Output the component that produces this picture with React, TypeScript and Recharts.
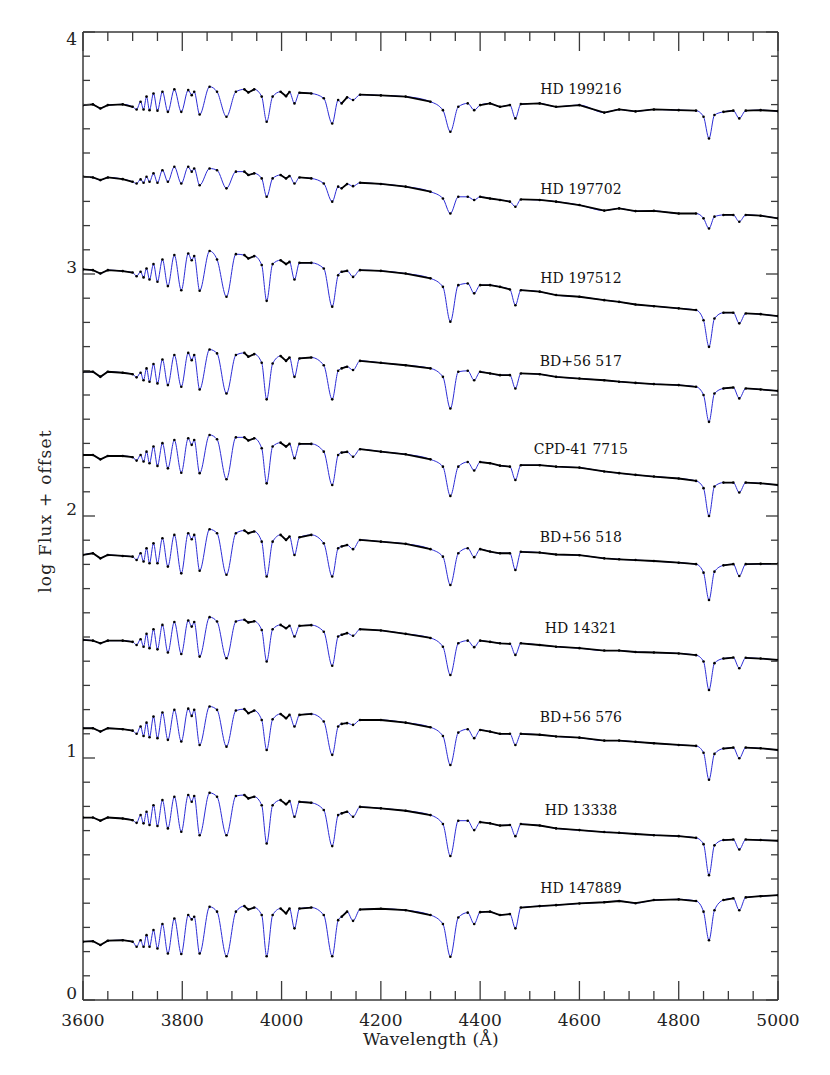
import { LineChart, Line, XAxis, YAxis, ReferenceDot } from 'recharts';

// wavelength grid (Angstrom) shared by all spectra
const WAVE = [
  3600, 3620, 3635, 3650, 3680, 3700, 3708, 3716, 3722, 3728,
  3734, 3742, 3750, 3760, 3771, 3784, 3798, 3812, 3819, 3824,
  3835, 3855, 3870, 3889, 3908, 3925, 3933, 3945, 3960, 3970,
  3982, 3998, 4009, 4016, 4026, 4036, 4060, 4085, 4102, 4114,
  4121, 4132, 4144, 4158, 4200, 4250, 4300, 4325, 4340, 4356,
  4375, 4388, 4400, 4420, 4440, 4460, 4471, 4482, 4520, 4553,
  4600, 4650, 4680, 4713, 4750, 4800, 4835, 4850, 4861, 4872,
  4890, 4910, 4922, 4935, 4965, 5000,
];

// log flux + offset
const HD_199216 = [
  3.698, 3.701, 3.684, 3.698, 3.701, 3.691, 3.680, 3.712, 3.680, 3.733,
  3.677, 3.746, 3.675, 3.753, 3.670, 3.763, 3.670, 3.760, 3.739, 3.753,
  3.659, 3.774, 3.753, 3.650, 3.753, 3.763, 3.750, 3.763, 3.733, 3.629,
  3.733, 3.753, 3.735, 3.752, 3.705, 3.749, 3.746, 3.726, 3.622, 3.719,
  3.705, 3.730, 3.719, 3.741, 3.738, 3.733, 3.712, 3.677, 3.588, 3.691,
  3.705, 3.677, 3.698, 3.705, 3.691, 3.698, 3.643, 3.702, 3.705, 3.691,
  3.698, 3.667, 3.680, 3.672, 3.680, 3.677, 3.675, 3.650, 3.560, 3.657,
  3.670, 3.675, 3.643, 3.675, 3.677, 3.673,
];
const HD_197702 = [
  3.402, 3.399, 3.388, 3.399, 3.392, 3.381, 3.374, 3.391, 3.377, 3.402,
  3.381, 3.416, 3.377, 3.429, 3.381, 3.443, 3.374, 3.443, 3.423, 3.436,
  3.367, 3.436, 3.429, 3.354, 3.423, 3.423, 3.409, 3.416, 3.395, 3.319,
  3.395, 3.409, 3.395, 3.405, 3.374, 3.399, 3.395, 3.374, 3.299, 3.361,
  3.354, 3.372, 3.363, 3.377, 3.372, 3.361, 3.340, 3.312, 3.250, 3.319,
  3.319, 3.306, 3.319, 3.312, 3.306, 3.299, 3.278, 3.308, 3.306, 3.299,
  3.285, 3.262, 3.271, 3.260, 3.261, 3.250, 3.250, 3.230, 3.188, 3.237,
  3.244, 3.244, 3.216, 3.244, 3.241, 3.230,
];
const HD_197512 = [
  3.019, 3.016, 3.002, 3.016, 3.012, 3.006, 2.991, 3.009, 2.986, 3.023,
  2.977, 3.041, 2.968, 3.060, 2.950, 3.078, 2.933, 3.085, 3.057, 3.074,
  2.931, 3.095, 3.060, 2.906, 3.082, 3.078, 3.064, 3.074, 3.037, 2.889,
  3.041, 3.057, 3.041, 3.050, 2.977, 3.046, 3.046, 3.023, 2.865, 2.995,
  3.009, 3.013, 2.988, 3.016, 3.013, 3.002, 2.982, 2.947, 2.803, 2.954,
  2.961, 2.920, 2.954, 2.954, 2.947, 2.936, 2.871, 2.933, 2.927, 2.913,
  2.906, 2.892, 2.885, 2.874, 2.867, 2.858, 2.851, 2.809, 2.699, 2.816,
  2.840, 2.840, 2.796, 2.837, 2.834, 2.826,
];
const BD_56_517 = [
  2.596, 2.596, 2.575, 2.596, 2.592, 2.586, 2.573, 2.592, 2.561, 2.610,
  2.555, 2.628, 2.548, 2.647, 2.541, 2.665, 2.534, 2.674, 2.644, 2.665,
  2.523, 2.688, 2.672, 2.506, 2.665, 2.674, 2.658, 2.669, 2.633, 2.482,
  2.630, 2.661, 2.641, 2.655, 2.575, 2.651, 2.655, 2.623, 2.482, 2.600,
  2.610, 2.617, 2.603, 2.641, 2.633, 2.623, 2.610, 2.575, 2.444, 2.596,
  2.600, 2.561, 2.596, 2.589, 2.582, 2.582, 2.527, 2.589, 2.586, 2.575,
  2.568, 2.561, 2.555, 2.550, 2.545, 2.541, 2.534, 2.500, 2.389, 2.506,
  2.527, 2.531, 2.486, 2.527, 2.523, 2.517,
];
const CPD_41_7715 = [
  2.252, 2.252, 2.234, 2.248, 2.248, 2.243, 2.229, 2.252, 2.225, 2.266,
  2.218, 2.287, 2.207, 2.301, 2.197, 2.314, 2.179, 2.321, 2.294, 2.314,
  2.177, 2.335, 2.317, 2.152, 2.325, 2.325, 2.312, 2.321, 2.280, 2.135,
  2.287, 2.303, 2.287, 2.298, 2.239, 2.298, 2.298, 2.266, 2.128, 2.252,
  2.262, 2.265, 2.245, 2.276, 2.266, 2.255, 2.234, 2.204, 2.083, 2.204,
  2.223, 2.188, 2.223, 2.218, 2.208, 2.204, 2.149, 2.210, 2.210, 2.204,
  2.200, 2.184, 2.177, 2.170, 2.163, 2.155, 2.145, 2.115, 2.000, 2.122,
  2.138, 2.138, 2.097, 2.138, 2.135, 2.128,
];
const BD_56_518 = [
  1.839, 1.846, 1.825, 1.839, 1.835, 1.832, 1.818, 1.846, 1.812, 1.867,
  1.805, 1.887, 1.805, 1.908, 1.791, 1.922, 1.763, 1.929, 1.904, 1.922,
  1.774, 1.945, 1.929, 1.757, 1.929, 1.940, 1.929, 1.936, 1.894, 1.750,
  1.894, 1.922, 1.901, 1.915, 1.839, 1.912, 1.922, 1.887, 1.750, 1.867,
  1.874, 1.880, 1.863, 1.901, 1.894, 1.885, 1.863, 1.832, 1.715, 1.846,
  1.867, 1.830, 1.863, 1.853, 1.846, 1.846, 1.777, 1.852, 1.849, 1.841,
  1.838, 1.825, 1.821, 1.818, 1.814, 1.807, 1.801, 1.766, 1.653, 1.770,
  1.796, 1.801, 1.752, 1.801, 1.802, 1.802,
];
const HD_14321 = [
  1.488, 1.485, 1.474, 1.485, 1.485, 1.480, 1.467, 1.491, 1.460, 1.513,
  1.454, 1.532, 1.449, 1.550, 1.436, 1.562, 1.430, 1.568, 1.543, 1.562,
  1.419, 1.582, 1.564, 1.412, 1.564, 1.571, 1.560, 1.565, 1.529, 1.399,
  1.532, 1.550, 1.536, 1.546, 1.502, 1.546, 1.549, 1.522, 1.381, 1.502,
  1.509, 1.516, 1.505, 1.532, 1.527, 1.513, 1.496, 1.460, 1.343, 1.474,
  1.485, 1.458, 1.485, 1.480, 1.474, 1.472, 1.426, 1.474, 1.467, 1.460,
  1.454, 1.444, 1.444, 1.438, 1.436, 1.432, 1.425, 1.399, 1.281, 1.392,
  1.411, 1.415, 1.371, 1.414, 1.411, 1.405,
];
const BD_56_576 = [
  1.123, 1.123, 1.109, 1.123, 1.119, 1.113, 1.100, 1.130, 1.091, 1.146,
  1.086, 1.171, 1.082, 1.188, 1.075, 1.199, 1.068, 1.204, 1.174, 1.199,
  1.054, 1.213, 1.199, 1.047, 1.196, 1.202, 1.185, 1.196, 1.157, 1.033,
  1.160, 1.182, 1.164, 1.178, 1.130, 1.178, 1.182, 1.151, 1.013, 1.130,
  1.141, 1.144, 1.137, 1.157, 1.157, 1.146, 1.127, 1.091, 0.971, 1.105,
  1.119, 1.082, 1.116, 1.109, 1.100, 1.100, 1.054, 1.100, 1.096, 1.089,
  1.084, 1.072, 1.072, 1.067, 1.061, 1.054, 1.050, 1.022, 0.910, 1.017,
  1.039, 1.043, 0.999, 1.043, 1.040, 1.033,
];
const HD_13338 = [
  0.754, 0.754, 0.741, 0.754, 0.750, 0.743, 0.732, 0.764, 0.730, 0.778,
  0.723, 0.805, 0.719, 0.826, 0.709, 0.840, 0.695, 0.847, 0.819, 0.843,
  0.681, 0.856, 0.840, 0.681, 0.843, 0.847, 0.833, 0.840, 0.805, 0.647,
  0.805, 0.826, 0.809, 0.822, 0.757, 0.819, 0.815, 0.785, 0.636, 0.764,
  0.771, 0.778, 0.757, 0.798, 0.792, 0.782, 0.764, 0.727, 0.595, 0.741,
  0.741, 0.702, 0.735, 0.730, 0.721, 0.723, 0.677, 0.727, 0.721, 0.709,
  0.702, 0.694, 0.691, 0.686, 0.681, 0.677, 0.670, 0.644, 0.516, 0.639,
  0.661, 0.663, 0.622, 0.663, 0.661, 0.658,
];
const HD_147889 = [
  0.241, 0.243, 0.227, 0.245, 0.247, 0.241, 0.220, 0.247, 0.220, 0.268,
  0.220, 0.289, 0.213, 0.314, 0.192, 0.337, 0.190, 0.351, 0.333, 0.344,
  0.192, 0.385, 0.365, 0.181, 0.365, 0.388, 0.374, 0.382, 0.351, 0.181,
  0.351, 0.378, 0.358, 0.378, 0.296, 0.378, 0.382, 0.351, 0.181, 0.330,
  0.344, 0.365, 0.327, 0.374, 0.377, 0.371, 0.351, 0.314, 0.179, 0.341,
  0.361, 0.314, 0.363, 0.365, 0.351, 0.355, 0.296, 0.382, 0.388, 0.392,
  0.399, 0.404, 0.409, 0.400, 0.413, 0.416, 0.409, 0.365, 0.247, 0.371,
  0.413, 0.420, 0.371, 0.424, 0.429, 0.433,
];

const STAR_NAMES = [
  'HD 199216', 'HD 197702', 'HD 197512', 'BD+56 517', 'CPD-41 7715',
  'BD+56 518', 'HD 14321', 'BD+56 576', 'HD 13338', 'HD 147889',
];
const STAR_FLUX = [
  HD_199216, HD_197702, HD_197512, BD_56_517, CPD_41_7715,
  BD_56_518, HD_14321, BD_56_576, HD_13338, HD_147889,
];
const LABEL_Y = [3.764, 3.351, 2.983, 2.640, 2.277, 1.913, 1.537, 1.169, 0.785, 0.463];
const LABEL_WAVE = 4603;

// points inside absorption profiles: only the model line + data dots show there
const LINE_POINTS = [
  3708, 3722, 3734, 3750, 3771, 3798, 3819, 3835, 3870, 3889, 3908, 3960,
  3970, 3982, 4026, 4085, 4102, 4114, 4144, 4325, 4340, 4356, 4388, 4471,
  4850, 4861, 4872, 4922,
];

const X_TICKS = [
  3600, 3650, 3700, 3750, 3800, 3850, 3900, 3950, 4000, 4050, 4100, 4150,
  4200, 4250, 4300, 4350, 4400, 4450, 4500, 4550, 4600, 4650, 4700, 4750,
  4800, 4850, 4900, 4950, 5000,
];
const Y_TICKS = Array.from({ length: 41 }, (_, i) => i / 10);

const FONT = '"DejaVu Serif", serif';
const AXIS = '#3a3a3a';
const MODEL = '#2c2cd6';

const isMajorY = (v: number) => Math.abs(v - Math.round(v)) < 1e-6;

function BottomTick({ x, y, payload }: any) {
  const major = payload.value % 200 === 0;
  return (
    <g>
      <line x1={x} x2={x} y1={y} y2={y - (major ? 19 : 9)} stroke={AXIS} strokeWidth={1.3} />
      {major && (
        <text x={x} y={y + 26} textAnchor="middle" fontFamily={FONT} fontSize={17} fill="#222">
          {payload.value}
        </text>
      )}
    </g>
  );
}

function TopTick({ x, y, payload }: any) {
  const major = payload.value % 200 === 0;
  return <line x1={x} x2={x} y1={y} y2={y + (major ? 19 : 9)} stroke={AXIS} strokeWidth={1.3} />;
}

function LeftTick({ x, y, payload }: any) {
  const v = payload.value;
  const major = isMajorY(v);
  return (
    <g>
      <line x1={x} x2={x + (major ? 12 : 7)} y1={y} y2={y} stroke={AXIS} strokeWidth={1.3} />
      {major && (
        <text x={x - 6} y={Math.round(v) === 4 ? y + 13 : y - 1} textAnchor="end" fontFamily={FONT} fontSize={17} fill="#222">
          {Math.round(v)}
        </text>
      )}
    </g>
  );
}

function RightTick({ x, y, payload }: any) {
  const major = isMajorY(payload.value);
  return <line x1={x} x2={x - (major ? 12 : 7)} y1={y} y2={y} stroke={AXIS} strokeWidth={1.3} />;
}

const axisLine = { stroke: AXIS, strokeWidth: 1.5 };

export default function App() {
  return (
    <div style={{ position: 'absolute', left: 0, top: 0, width: 830, height: 1075, background: '#fff' }}>
      <LineChart width={830} height={1075} margin={{ top: 31, right: 51, bottom: 74, left: 82 }}>
        <XAxis
          type="number"
          dataKey="w"
          domain={[3600, 5000]}
          allowDataOverflow
          ticks={X_TICKS}
          interval={0}
          height={1}
          tickSize={0}
          tickMargin={0}
          tickLine={false}
          axisLine={axisLine}
          tick={(p: any) => <BottomTick {...p} />}
        />
        <XAxis
          xAxisId="top"
          orientation="top"
          type="number"
          dataKey="w"
          domain={[3600, 5000]}
          allowDataOverflow
          ticks={X_TICKS}
          interval={0}
          height={1}
          tickSize={0}
          tickMargin={0}
          tickLine={false}
          axisLine={axisLine}
          tick={(p: any) => <TopTick {...p} />}
        />
        <YAxis
          type="number"
          domain={[0, 4]}
          allowDataOverflow
          ticks={Y_TICKS}
          interval={0}
          width={1}
          tickSize={0}
          tickMargin={0}
          tickLine={false}
          axisLine={axisLine}
          tick={(p: any) => <LeftTick {...p} />}
        />
        <YAxis
          yAxisId="right"
          orientation="right"
          type="number"
          domain={[0, 4]}
          allowDataOverflow
          ticks={Y_TICKS}
          interval={0}
          width={1}
          tickSize={0}
          tickMargin={0}
          tickLine={false}
          axisLine={axisLine}
          tick={(p: any) => <RightTick {...p} />}
        />

        {STAR_FLUX.map((flux, s) => (
          <Line
            key={`model-${s}`}
            data={WAVE.map((w, i) => ({ w, v: flux[i] }))}
            dataKey="v"
            type="monotone"
            stroke={MODEL}
            strokeWidth={1}
            dot={{ r: 1.3, fill: '#000', stroke: 'none' }}
            activeDot={false}
            isAnimationActive={false}
          />
        ))}
        {STAR_FLUX.map((flux, s) => (
          <Line
            key={`obs-${s}`}
            data={WAVE.map((w, i) => ({ w, v: LINE_POINTS.includes(w) ? null : flux[i] }))}
            dataKey="v"
            type="linear"
            stroke="#000"
            strokeWidth={1.8}
            dot={false}
            activeDot={false}
            isAnimationActive={false}
          />
        ))}

        {STAR_NAMES.map((name, s) => (
          <ReferenceDot
            key={name}
            x={LABEL_WAVE}
            y={LABEL_Y[s]}
            r={0}
            fill="none"
            stroke="none"
            label={{ value: name, position: 'center', fontFamily: FONT, fontSize: 14, fill: '#111' }}
          />
        ))}
      </LineChart>
      <svg width={830} height={1075} style={{ position: 'absolute', left: 0, top: 0, pointerEvents: 'none' }}>
        <text x={431} y={1045} textAnchor="middle" fontFamily={FONT} fontSize={17} letterSpacing={0.3} fill="#222">
          Wavelength (Å)
        </text>
        <text
          transform="translate(51,511) rotate(-90)"
          textAnchor="middle"
          fontFamily={FONT}
          fontSize={17}
          letterSpacing={1.2}
          fill="#222"
        >
          log Flux + offset
        </text>
      </svg>
    </div>
  );
}
